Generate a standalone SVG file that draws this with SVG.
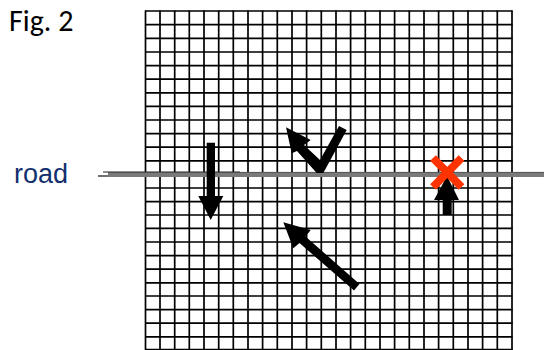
<svg xmlns="http://www.w3.org/2000/svg" width="544" height="350" viewBox="0 0 544 350">
<style>
.g{stroke:#000;stroke-width:1.7;fill:none}
.a{fill:#000;stroke:none}
.l{font-family:"Liberation Sans",Arial,sans-serif}
</style>
<rect width="544" height="350" fill="#fff"/>
<g id="grid">
<path class="g" d="M145.5 10.5V350M160 10.5V350M174.7 10.5V350M189.3 10.5V350M204 10.5V350M218.7 10.5V350M233.3 10.5V350M248 10.5V350M262.6 10.5V350M277.3 10.5V350M292 10.5V350M306.6 10.5V350M321.3 10.5V350M336 10.5V350M350.6 10.5V350M365.3 10.5V350M380 10.5V350M394.6 10.5V350M409.3 10.5V350M424 10.5V350M438.6 10.5V350M453.3 10.5V350M468 10.5V350M482.6 10.5V350M497.3 10.5V350M512 10.5V350"/>
<path class="g" d="M145 11H512.5M145 24.7H512.5M145 38.3H512.5M145 52H512.5M145 65.6H512.5M145 79.2H512.5M145 92.8H512.5M145 106.4H512.5M145 120H512.5M145 133.6H512.5M145 147.2H512.5M145 160.8H512.5M145 174.4H512.5M145 188H512.5M145 201.6H512.5M145 215H512.5M145 228.4H512.5M145 242H512.5M145 255.6H512.5M145 269.2H512.5M145 282.8H512.5M145 296H512.5M145 309.6H512.5M145 323.2H512.5M145 336.8H512.5M145 349.6H512.5"/>
</g>
<g id="road">
<path d="M108 174.4H544" stroke="#7a7a7a" stroke-width="5" fill="none"/>
<path d="M240 172.4H544" stroke="#555" stroke-width="1" fill="none"/>
<path d="M103 172H240" stroke="#222" stroke-width="1.2" fill="none"/>
<path d="M98 176H108" stroke="#111" stroke-width="1.2" fill="none"/>
</g>
<g id="connectors">
<g id="arrow-down"><polygon class="a" points="206.7,142.7 215,142.7 215,196 223.3,196 210.7,220 198.3,196 206.7,196"/></g>
<g id="arrow-up"><polygon class="a" points="442.7,215 451.7,215 451.7,200 459,200 447,176 434,200 442.7,200"/></g>
<g id="arrow-diag"><polygon class="a" points="359.5,284 354,290.5 299.5,243 293.3,248.3 283.3,222.3 310.7,230 305.5,236.5"/></g>
<g id="arrow-check"><polygon class="a" points="339,126 346.7,130 323.3,173 316.7,173 297,151 291.7,153.3 286,127.3 310.7,140 304,145 320,160"/></g>
</g>
<g id="cross"><path d="M433 158L461.5 187M461.5 158L433 187" stroke="#ff3300" stroke-width="8" fill="none"/></g>
<g id="labels">
<text class="l" x="14" y="182.5" font-size="27" fill="#12306f">road</text>
<text x="9" y="31" font-size="30" fill="#000" font-family="Carlito,'Open Sans','Liberation Sans',sans-serif">Fig. 2</text>
</g>
</svg>
